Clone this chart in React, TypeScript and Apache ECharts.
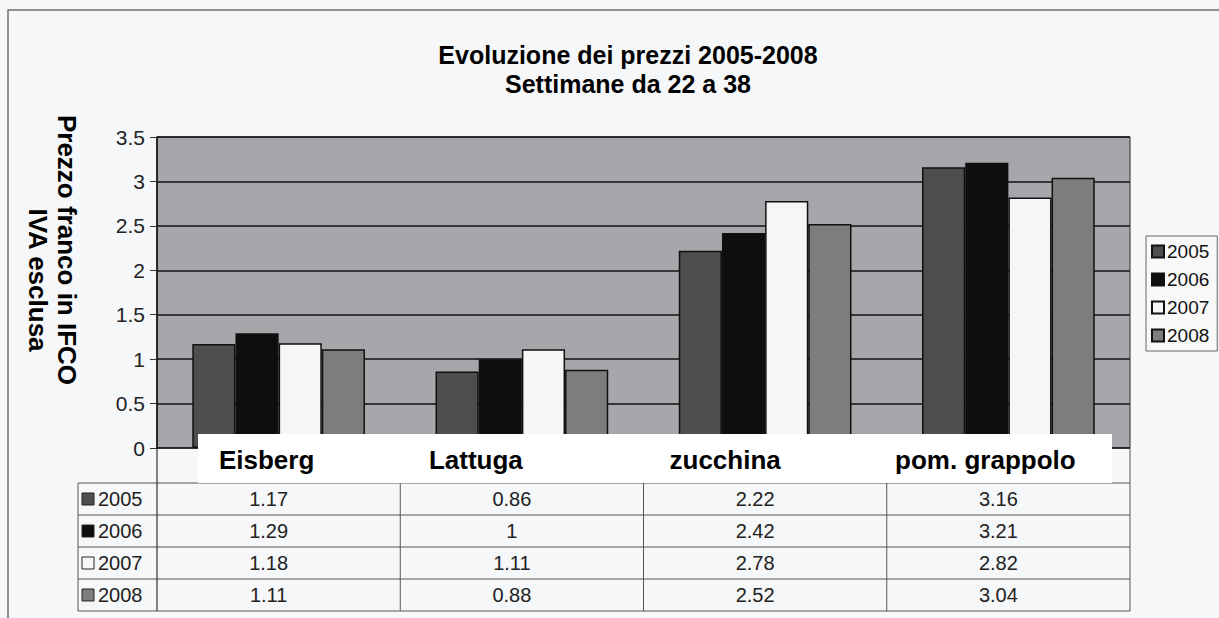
import React, { useEffect, useRef } from "react";
import * as echarts from "echarts";

const categories = ["Eisberg", "Lattuga", "zucchina", "pom. grappolo"];
const years = ["2005", "2006", "2007", "2008"];
const values2005 = [1.17, 0.86, 2.22, 3.16];
const values2006 = [1.29, 1, 2.42, 3.21];
const values2007 = [1.18, 1.11, 2.78, 2.82];
const values2008 = [1.11, 0.88, 2.52, 3.04];
const seriesValues = [values2005, values2006, values2007, values2008];
const titleLines = ["Evoluzione dei prezzi 2005-2008", "Settimane da 22 a 38"];
const yAxisTitle = ["Prezzo franco in IFCO", "IVA esclusa"];

const yearColors = ["#4e4e4e", "#0e0e0e", "#f6f6f6", "#7d7d7d"];
const FONT = "'Liberation Sans', Arial, sans-serif";

export default function App() {
  const ref = useRef<HTMLDivElement>(null);

  useEffect(() => {
    if (!ref.current) return;
    const chart = echarts.init(ref.current, undefined, { renderer: "svg" });

    const gridLeft = 157;
    const gridRight = 1130;
    const gridTop = 137;
    const gridBottom = 448;

    const labelShift = [12, 46, 40, 23];
    const rich: Record<string, any> = {};
    categories.forEach((_, i) => {
      rich["c" + i] = {
        fontSize: 26,
        fontWeight: "bold",
        fontFamily: FONT,
        color: "#000",
        padding: [0, labelShift[i] * 2, 0, 0],
      };
    });

    chart.setOption({
      animation: false,
      backgroundColor: "#f6f7f9",
      title: {
        text: titleLines.join("\n"),
        left: 623,
        top: 35,
        textAlign: "center",
        textStyle: {
          fontSize: 25,
          fontWeight: "bold",
          fontFamily: FONT,
          color: "#000",
          lineHeight: 29,
        },
      },
      legend: {
        data: years,
        orient: "vertical",
        left: 1146,
        top: 236,
        itemWidth: 12,
        itemHeight: 12,
        itemGap: 9,
        icon: "rect",
        borderColor: "#666",
        borderWidth: 1,
        padding: [6, 8, 6, 5],
        backgroundColor: "#f8f8f8",
        textStyle: { fontSize: 19, fontFamily: FONT, color: "#111", padding: [0, 0, 0, -2] },
      },
      grid: {
        left: gridLeft,
        top: gridTop,
        width: gridRight - gridLeft,
        height: gridBottom - gridTop,
        show: true,
        backgroundColor: "#a6a7aa",
        borderColor: "#2a2a2a",
        borderWidth: 1,
      },
      xAxis: {
        type: "category",
        data: categories,
        z: 6,
        axisLine: { show: false },
        axisTick: { show: false },
        axisLabel: {
          margin: -1,
          interval: 0,
          formatter: (v: string) => "{c" + categories.indexOf(v) + "|" + v + "}",
          rich,
        },
      },
      yAxis: {
        type: "value",
        min: 0,
        max: 3.5,
        interval: 0.5,
        axisLine: { show: true, lineStyle: { color: "#111", width: 1.5 } },
        axisTick: { show: true, length: 7, lineStyle: { color: "#333" } },
        axisLabel: { fontSize: 21, fontFamily: FONT, color: "#222", margin: 12 },
        splitLine: { show: true, lineStyle: { color: "#111", width: 1.5 } },
      },
      series: years.map((y, i) => ({
        name: y,
        type: "bar",
        data: seriesValues[i],
        barGap: "0%",
        barCategoryGap: "29%",
        itemStyle: { color: yearColors[i], borderColor: "#111", borderWidth: 1.5 },
      })),
    });

    // Data table and overlays, positioned through the chart's own scales
    const centers = categories.map((c) => chart.convertToPixel({ xAxisIndex: 0 }, c) as number);
    const band = centers.length > 1 ? centers[1] - centers[0] : 240;
    const zeroY = chart.convertToPixel({ yAxisIndex: 0 }, 0) as number;
    const leftEdge = centers[0] - band / 2;
    const rightEdge = centers[centers.length - 1] + band / 2;
    const tableTop = 483;
    const rowH = 32;
    const tableLeft = 78;
    const tableBottom = tableTop + rowH * years.length;
    const lineStyle = { stroke: "#555", lineWidth: 1 };

    const elements: any[] = [];
    elements.push({
      type: "rect",
      z: 0,
      shape: { x: 8, y: 10, width: 1300, height: 700 },
      style: { fill: "none", stroke: "#707070", lineWidth: 1.5 },
    });
    elements.push({
      type: "rect",
      z: 5,
      shape: { x: 198, y: 434, width: 914, height: tableTop - 434 },
      style: { fill: "#ffffff" },
    });
    for (let r = 0; r <= years.length; r++) {
      const y = tableTop + r * rowH;
      elements.push({ type: "line", z: 4, shape: { x1: tableLeft, y1: y, x2: rightEdge, y2: y }, style: lineStyle });
    }
    elements.push({ type: "line", z: 4, shape: { x1: tableLeft, y1: tableTop, x2: tableLeft, y2: tableBottom }, style: lineStyle });
    elements.push({ type: "line", z: 4, shape: { x1: leftEdge, y1: zeroY, x2: leftEdge, y2: tableBottom }, style: { stroke: "#333", lineWidth: 1.2 } });
    for (let i = 1; i < centers.length; i++) {
      const x = (centers[i - 1] + centers[i]) / 2;
      elements.push({ type: "line", z: 4, shape: { x1: x, y1: tableTop, x2: x, y2: tableBottom }, style: lineStyle });
    }
    elements.push({ type: "line", z: 4, shape: { x1: rightEdge, y1: zeroY, x2: rightEdge, y2: tableBottom }, style: lineStyle });

    years.forEach((y, r) => {
      const cy = tableTop + r * rowH + rowH / 2;
      elements.push({
        type: "rect",
        z: 4,
        shape: { x: 82, y: cy - 6, width: 12, height: 12 },
        style: { fill: yearColors[r], stroke: "#222", lineWidth: 1 },
      });
      elements.push({
        type: "text",
        z: 4,
        x: 98,
        y: cy,
        style: { text: y, fontSize: 20, fontFamily: FONT, fill: "#222", align: "left", verticalAlign: "middle" },
      });
      seriesValues[r].forEach((v, c) => {
        elements.push({
          type: "text",
          z: 4,
          x: centers[c] - 10,
          y: cy,
          style: { text: String(v), fontSize: 20, fontFamily: FONT, fill: "#222", align: "center", verticalAlign: "middle" },
        });
      });
    });

    elements.push({
      type: "text",
      z: 4,
      x: 67,
      y: 250,
      rotation: -Math.PI / 2,
      style: { text: yAxisTitle[0], fontSize: 26, fontWeight: "bold", fontFamily: FONT, fill: "#000", align: "center", verticalAlign: "middle" },
    });
    elements.push({
      type: "text",
      z: 4,
      x: 38,
      y: 280,
      rotation: -Math.PI / 2,
      style: { text: yAxisTitle[1], fontSize: 26, fontWeight: "bold", fontFamily: FONT, fill: "#000", align: "center", verticalAlign: "middle" },
    });

    chart.setOption({ graphic: { elements } });

    return () => chart.dispose();
  }, []);

  return <div ref={ref} style={{ position: "absolute", left: 0, top: 0, width: 1219, height: 618 }} />;
}
